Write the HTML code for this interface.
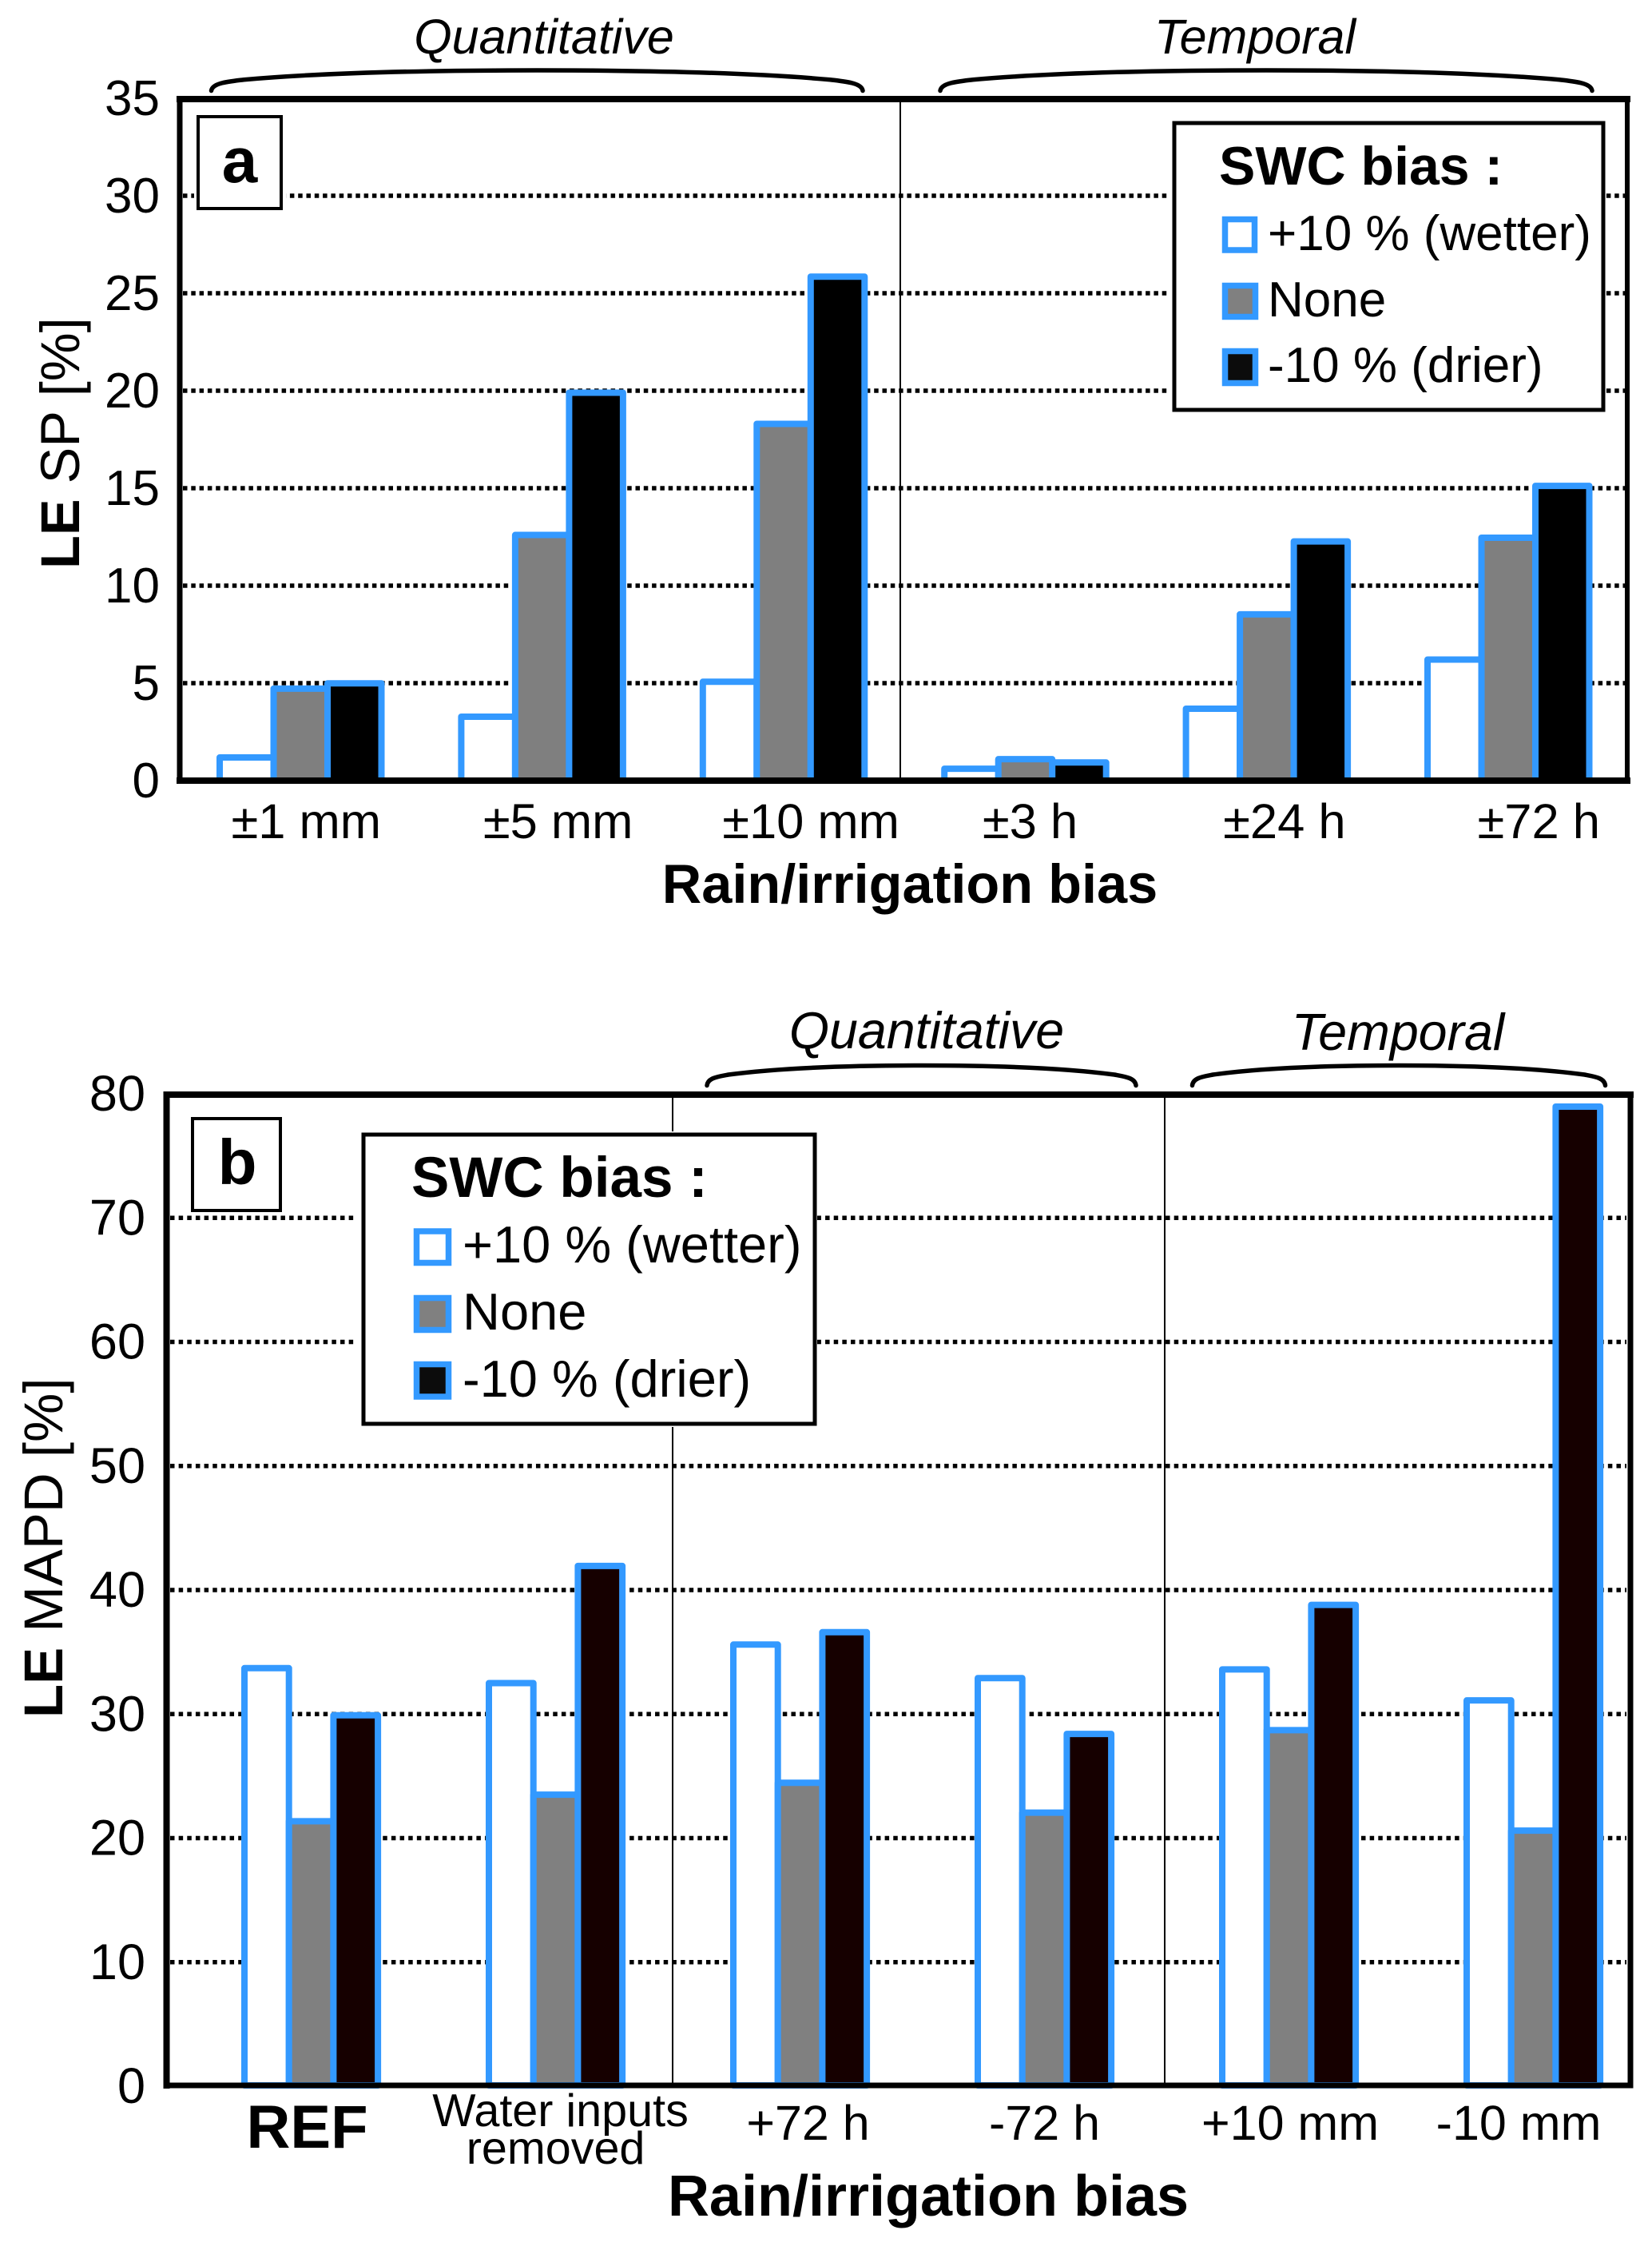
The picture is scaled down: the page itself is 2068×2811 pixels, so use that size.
<!DOCTYPE html>
<html lang="en">
<head>
<meta charset="utf-8">
<title>LE SP and LE MAPD versus rain/irrigation bias</title>
<style>
html,body{margin:0;padding:0;background:#fff;}
svg{display:block;}
text{font-family:"Liberation Sans",Arial,sans-serif;fill:#000;}
.tick{text-anchor:end;}
.group-label{font-size:61px;font-style:italic;text-anchor:middle;}
.axis-title{font-weight:bold;text-anchor:middle;}
.leg-title{font-weight:bold;}
.panel{font-weight:bold;text-anchor:middle;font-size:80px;}
</style>
</head>
<body>
<svg id="fig" xmlns="http://www.w3.org/2000/svg" width="2068" height="2811" viewBox="0 0 2068 2811">
  <rect x="0" y="0" width="2068" height="2811" fill="#fff"/>

  <!-- PANEL A -->
  <g id="a-grid"></g>
  <line x1="1127" y1="124" x2="1127" y2="977" stroke="#000" stroke-width="2"/>
  <g id="a-bars"></g>
  <g id="a-ticks"></g>
  <g id="a-cats"></g>
  <g stroke="#000" stroke-linecap="square">
    <line x1="225" y1="124" x2="225" y2="977" stroke-width="7"/>
    <line x1="2037" y1="124" x2="2037" y2="977" stroke-width="6"/>
    <line x1="225" y1="124" x2="2037" y2="124" stroke-width="8"/>
    <line x1="225" y1="977" x2="2037" y2="977" stroke-width="8"/>
  </g>
  <text class="group-label" x="681" y="67">Quantitative</text>
  <text class="group-label" x="1571" y="67">Temporal</text>
  <g id="a-braces"></g>
  <rect x="243" y="141" width="115" height="124" fill="#fff"/>
  <rect x="248" y="146" width="104" height="115" fill="#fff" stroke="#000" stroke-width="4"/>
  <text class="panel" x="300" y="228">a</text>
  <g>
    <rect x="1462" y="149" width="548" height="368" fill="#fff"/>
    <rect x="1470" y="154" width="537" height="359" fill="#fff" stroke="#000" stroke-width="5"/>
    <text class="leg-title" x="1526" y="231" font-size="68">SWC bias :</text>
    <rect x="1533.500" y="274.500" width="37" height="38.500" fill="#fff" stroke="#3399ff" stroke-width="7.500"/>
    <text x="1587" y="313" font-size="62">+10 % (wetter)</text>
    <rect x="1533.500" y="357.500" width="38" height="39" fill="#808080" stroke="#3399ff" stroke-width="7.500"/>
    <text x="1587" y="396" font-size="62">None</text>
    <rect x="1533.500" y="439.500" width="38" height="40" fill="#0c0c0c" stroke="#3399ff" stroke-width="7.500"/>
    <text x="1587" y="478" font-size="62">-10 % (drier)</text>
  </g>
  <text class="axis-title" x="1139" y="1130" font-size="68.500">Rain/irrigation bias</text>
  <text transform="translate(99,712) rotate(-90)" font-size="68.500"><tspan font-weight="bold">LE</tspan> SP [%]</text>

  <!-- PANEL B -->
  <g id="b-grid"></g>
  <line x1="842" y1="1370" x2="842" y2="2610" stroke="#000" stroke-width="2"/>
  <line x1="1458" y1="1370" x2="1458" y2="2610" stroke="#000" stroke-width="2"/>
  <g id="b-bars"></g>
  <g id="b-ticks"></g>
  <g id="b-cats"></g>
  <g stroke="#000" stroke-linecap="square">
    <line x1="208.500" y1="1370" x2="208.500" y2="2610" stroke-width="8"/>
    <line x1="2041" y1="1370" x2="2041" y2="2610" stroke-width="7"/>
    <line x1="208.500" y1="1370" x2="2041" y2="1370" stroke-width="8"/>
    <line x1="208.500" y1="2610" x2="2041" y2="2610" stroke-width="7"/>
  </g>
  <text class="group-label" x="1160" y="1312" style="font-size:64.500px">Quantitative</text>
  <text class="group-label" x="1750" y="1314" style="font-size:64.500px">Temporal</text>
  <g id="b-braces"></g>
  <rect x="236" y="1395" width="120" height="125" fill="#fff"/>
  <rect x="241" y="1400" width="110" height="115" fill="#fff" stroke="#000" stroke-width="4"/>
  <text class="panel" x="297" y="1482">b</text>
  <g>
    <rect x="447" y="1416" width="576" height="370" fill="#fff"/>
    <rect x="455" y="1420" width="565" height="362" fill="#fff" stroke="#000" stroke-width="5"/>
    <text class="leg-title" x="515" y="1498" font-size="71">SWC bias :</text>
    <rect x="521.500" y="1541" width="40" height="39.500" fill="#fff" stroke="#3399ff" stroke-width="7.500"/>
    <text x="579" y="1580" font-size="65">+10 % (wetter)</text>
    <rect x="521.500" y="1624.500" width="40" height="40" fill="#808080" stroke="#3399ff" stroke-width="7.500"/>
    <text x="579" y="1664" font-size="65">None</text>
    <rect x="521.500" y="1707.500" width="40" height="40.500" fill="#0c0c0c" stroke="#3399ff" stroke-width="7.500"/>
    <text x="579" y="1748" font-size="65">-10 % (drier)</text>
  </g>
  <text class="axis-title" x="1162" y="2773" font-size="72">Rain/irrigation bias</text>
  <text transform="translate(78,2150) rotate(-90)" font-size="69"><tspan font-weight="bold">LE</tspan> MAPD [%]</text>
</svg>

<script>
// ---- Panel a data ----
const categoriesA = ['±1 mm', '±5 mm', '±10 mm', '±3 h', '±24 h', '±72 h'];
const wetterA = [1.19, 3.28, 5.07, 0.61, 3.69, 6.21];
const noneA = [4.72, 12.6, 18.3, 1.1, 8.53, 12.46];
const drierA = [4.99, 19.9, 25.85, 0.93, 12.27, 15.12];
const yTicksA = [0, 5, 10, 15, 20, 25, 30, 35];

// ---- Panel b data ----
const categoriesB = ['REF', 'Water inputs\nremoved', '+72 h', '-72 h', '+10 mm', '-10 mm'];
const wetterB = [33.7, 32.5, 35.6, 32.9, 33.6, 31.1];
const noneB = [21.36, 23.5, 24.46, 22.05, 28.7, 20.6];
const drierB = [29.9, 41.94, 36.6, 28.4, 38.8, 78.97];
const yTicksB = [0, 10, 20, 30, 40, 50, 60, 70, 80];

// ---- Layout ----
const SVG_NS = 'http://www.w3.org/2000/svg';
const BLUE = '#3399ff';

const yA = function (v) { return 977 - 24.4 * v; };
const yB = function (v) { return 2611 - 15.525 * v; };
const groupA = function (i) { return 275 + 302.4 * i; };
const groupB = function (i) { return 306 + 306 * i; };
const BAR_A = 67.5;
const BAR_B = 55.7;
const labelShiftA = [7, 20, 34, 6, 22, 38];
const labelShiftB = [-3.5, 0, 10, 0, 1.5, -18.5];

function svgEl(tag, parent) {
  const el = document.createElementNS(SVG_NS, tag);
  parent.appendChild(el);
  return el;
}

function drawGrid(host, ticks, yFn, x1, x2, period) {
  ticks.forEach(function (t, idx) {
    if (idx === 0 || idx === ticks.length - 1) return;
    const ln = svgEl('line', host);
    
    
    ln.setAttribute('x1', x1);
    ln.setAttribute('x2', x2);
    ln.setAttribute('y1', yFn(t));
    ln.setAttribute('y2', yFn(t));
    ln.setAttribute('stroke', '#000');
    ln.setAttribute('stroke-width', '5.5');
    ln.setAttribute('stroke-dasharray', '5.5 ' + (period - 5.5));
  });
}

function drawTicks(host, ticks, yFn, right, size) {
  ticks.forEach(function (t) {
    const tx = svgEl('text', host);
    
    
    tx.setAttribute('class', 'tick');
    tx.setAttribute('x', right);
    tx.setAttribute('y', yFn(t) + 21);
    tx.setAttribute('style', 'font-size:' + size + 'px');
    tx.textContent = String(t);
  });
}

function drawBars(host, cats, series, fills, yFn, groupFn, barW, baseY) {
  cats.forEach(function (cat, i) {
    series.forEach(function (vals, s) {
      const r = svgEl('rect', host);
      
      
      const top = yFn(vals[i]);
      r.setAttribute('x', groupFn(i) + s * barW);
      r.setAttribute('y', top);
      r.setAttribute('width', barW);
      r.setAttribute('height', Math.max(0, baseY - top));
      r.setAttribute('fill', fills[s]);
      r.setAttribute('stroke', BLUE);
      r.setAttribute('stroke-width', '8');
      r.setAttribute('stroke-linejoin', 'round');
    });
  });
}

function drawBrace(host, x0, x1, top, bottom) {
  const w = x1 - x0, h = bottom - top, mid = (x0 + x1) / 2;
  const p = svgEl('path', host);
  
  
  const d = 'M' + x0 + ' ' + bottom +
    ' C' + (x0 + 0.002 * w) + ' ' + (top + 0.62 * h) + ' ' + (x0 + 0.025 * w) + ' ' + (top + 0.56 * h) + ' ' + (x0 + 0.05 * w) + ' ' + (top + 0.46 * h) +
    ' C' + (x0 + 0.17 * w) + ' ' + (top + 0.12 * h) + ' ' + (x0 + 0.33 * w) + ' ' + top + ' ' + mid + ' ' + top +
    ' C' + (x1 - 0.33 * w) + ' ' + top + ' ' + (x1 - 0.17 * w) + ' ' + (top + 0.12 * h) + ' ' + (x1 - 0.05 * w) + ' ' + (top + 0.46 * h) +
    ' C' + (x1 - 0.025 * w) + ' ' + (top + 0.56 * h) + ' ' + (x1 - 0.002 * w) + ' ' + (top + 0.62 * h) + ' ' + x1 + ' ' + bottom;
  p.setAttribute('d', d);
  p.setAttribute('fill', 'none');
  p.setAttribute('stroke', '#000');
  p.setAttribute('stroke-width', '5.5');
  p.setAttribute('stroke-linecap', 'round');
}

// ---- Panel a ----
const gridA = document.getElementById('a-grid');
const barsA = document.getElementById('a-bars');
const ticksA = document.getElementById('a-ticks');
const catsA = document.getElementById('a-cats');
const bracesA = document.getElementById('a-braces');
drawGrid(gridA, yTicksA, yA, 229, 2034, 10.3);
drawBars(barsA, categoriesA, [wetterA, noneA, drierA], ['#ffffff', '#7f7f7f', '#000000'], yA, groupA, BAR_A, 977);
drawTicks(ticksA, yTicksA, yA, 200, 62);
categoriesA.forEach(function (c, i) {
  const t = svgEl('text', catsA);
  
  
  t.setAttribute('x', groupA(i) + 1.5 * BAR_A + labelShiftA[i]);
  t.setAttribute('y', 1049);
  t.setAttribute('text-anchor', 'middle');
  t.setAttribute('font-size', '61.5');
  t.textContent = c;
});
drawBrace(bracesA, 264.5, 1080, 88, 113.5);
drawBrace(bracesA, 1177, 1993, 88, 113.5);

// ---- Panel b ----
const gridB = document.getElementById('b-grid');
const barsB = document.getElementById('b-bars');
const ticksB = document.getElementById('b-ticks');
const catsB = document.getElementById('b-cats');
const bracesB = document.getElementById('b-braces');
drawGrid(gridB, yTicksB, yB, 213, 2036, 10.65);
drawBars(barsB, categoriesB, [wetterB, noneB, drierB], ['#ffffff', '#808080', '#160000'], yB, groupB, BAR_B, 2610);
drawTicks(ticksB, yTicksB, yB, 182, 63);
categoriesB.forEach(function (c, i) {
  const cx = groupB(i) + 1.5 * BAR_B + labelShiftB[i];
  if (c.indexOf('\n') >= 0) {
    const parts = c.split('\n');
    const t1 = svgEl('text', catsB);
    
    
    t1.setAttribute('x', cx + 6);
    t1.setAttribute('y', 2661);
    t1.setAttribute('text-anchor', 'middle');
    t1.setAttribute('font-size', '57.5');
    t1.textContent = parts[0];
    const t2 = svgEl('text', catsB);
    
    
    t2.setAttribute('x', cx);
    t2.setAttribute('y', 2708);
    t2.setAttribute('text-anchor', 'middle');
    t2.setAttribute('font-size', '57.5');
    t2.textContent = parts[1];
  } else {
    const t = svgEl('text', catsB);
    
    
    t.setAttribute('x', cx - (i === 0 ? 1.5 : 0));
    t.setAttribute('y', i === 0 ? 2688 : 2678);
    t.setAttribute('text-anchor', 'middle');
    t.setAttribute('font-size', i === 0 ? '76' : '61');
    if (i === 0) t.setAttribute('font-weight', 'bold');
    t.textContent = c;
  }
});
drawBrace(bracesB, 885, 1422, 1333.5, 1358.5);
drawBrace(bracesB, 1492.5, 2009.5, 1333.5, 1358.5);
</script>
</body>
</html>
